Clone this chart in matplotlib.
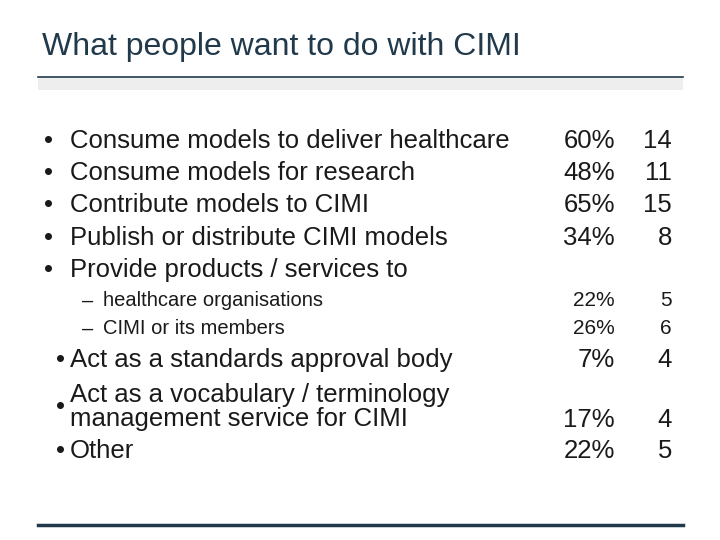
import matplotlib
matplotlib.use("Agg")
import matplotlib.pyplot as plt
from matplotlib.lines import Line2D
from matplotlib.patches import Rectangle

plt.rcParams['font.family'] = ['Liberation Sans', 'DejaVu Sans']

title = "What people want to do with CIMI"
labels = ["Consume models to deliver healthcare", "Consume models for research",
          "Contribute models to CIMI", "Publish or distribute CIMI models",
          "Provide products / services to",
          "healthcare organisations", "CIMI or its members",
          "Act as a standards approval body",
          "Act as a vocabulary / terminology\nmanagement service for CIMI", "Other"]
levels = [1, 1, 1, 1, 1, 2, 2, 3, 3, 3]
percents = ["60%", "48%", "65%", "34%", "", "22%", "26%", "7%", "17%", "22%"]
counts = ["14", "11", "15", "8", "", "5", "6", "4", "4", "5"]
label_y = [141, 173, 205, 238, 270, 301, 329, 360, 407, 451]
value_y = [141, 173, 205, 238, 270, 301, 329, 360, 420, 451]

W, H = 720, 540
fig = plt.figure(figsize=(7.2, 5.4), dpi=100)
fig.patch.set_facecolor("white")
fx = lambda x: x / W
fy = lambda y: 1 - y / H
col = "#1a1a1a"
fig.text(fx(42), fy(47), title, fontsize=23, color="#203a4c", va="center", ha="left")
fig.add_artist(Line2D([fx(38), fx(683)], [fy(77), fy(77)], color="#203a4c", lw=1.2))
fig.add_artist(Rectangle((fx(38), fy(90)), fx(645), 12 / H, color="#eeeeee", lw=0))
fig.add_artist(Line2D([fx(38), fx(683)], [fy(525), fy(525)], color="#203a4c", lw=2.5))

for i, lab in enumerate(labels):
    lv = levels[i]
    sub = lv == 2
    fs = 14.5 if sub else 18.5
    bx, tx = {1: (44, 70), 2: (82, 103), 3: (56, 70)}[lv]
    fig.text(fx(bx), fy(label_y[i]), "–" if sub else "•", fontsize=fs, color=col, va="center", ha="left")
    fig.text(fx(tx), fy(label_y[i]), lab, fontsize=fs, color=col, va="center", ha="left", linespacing=0.95)
    vfs = 15 if sub else 18.5
    fig.text(fx(615), fy(value_y[i]), percents[i], fontsize=vfs, color=col, va="center", ha="right")
    fig.text(fx(672), fy(value_y[i]), counts[i], fontsize=vfs, color=col, va="center", ha="right")

fig.savefig("out.png", dpi=100)
